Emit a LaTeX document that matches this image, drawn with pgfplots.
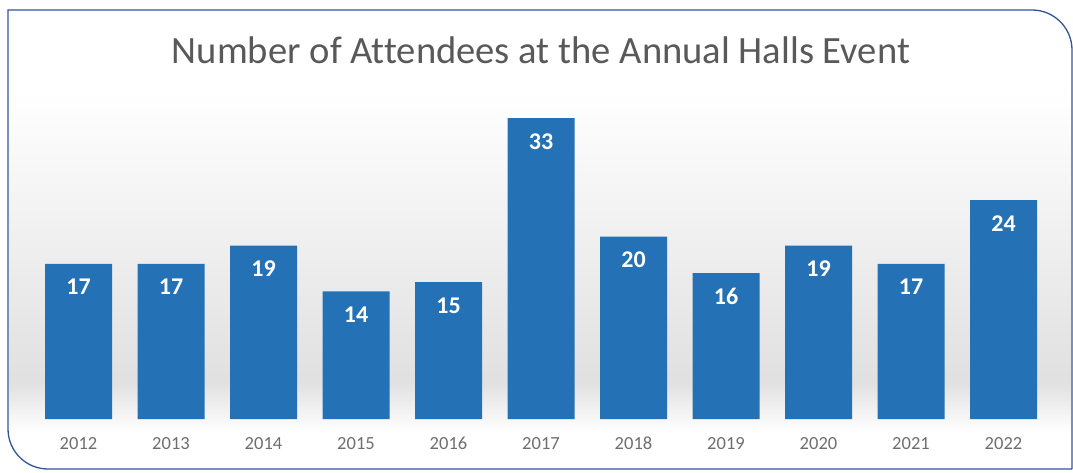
\documentclass[border=0pt]{standalone}
\usepackage{pgfplots}
\pgfplotsset{compat=1.18}
\usepackage{fontspec}
\setmainfont{Carlito}[Ligatures=NoCommon]
\definecolor{barblue}{RGB}{36,113,181}
\definecolor{bordblue}{RGB}{47,85,151}
\definecolor{titlegray}{RGB}{89,89,89}
\definecolor{tickgray}{RGB}{110,110,110}
\begin{document}
\begin{tikzpicture}
\useasboundingbox (0pt,0pt) rectangle (1073pt,472pt);
% background shading
\shade[top color=white, bottom color=black!12] (9pt,90pt) rectangle (1071pt,380pt);
\shade[top color=black!12, bottom color=white] (9pt,40pt) rectangle (1071pt,90pt);
\begin{axis}[
  at={(32.25pt,53pt)}, anchor=south west,
  scale only axis,
  width=1017.5pt, height=328.3pt,
  xmin=-0.5, xmax=10.5, ymin=0, ymax=36,
  axis line style={draw=none},
  hide y axis,
  xtick=data,
  xticklabels={2012,2013,2014,2015,2016,2017,2018,2019,2020,2021,2022},
  major tick length=0pt,
  xticklabel style={anchor=base, yshift=-30pt, font=\fontsize{18.5}{22}\selectfont, text=tickgray},
  ybar, bar width=67pt,
  nodes near coords,
  nodes near coords style={anchor=base, yshift=-31pt, text=white, font=\bfseries\fontsize{24}{28}\selectfont},
  /pgf/number format/assume math mode=true,
]
\addplot[fill=barblue, draw=none] coordinates {
(0,17) (1,17) (2,19) (3,14) (4,15) (5,33) (6,20) (7,16) (8,19) (9,17) (10,24)};
\end{axis}
\node[text=titlegray, font=\fontsize{38.6}{42}\selectfont] at (541pt,422pt) {Number of Attendees at the Annual Halls Event};
\draw[bordblue, line width=1.3pt] (1072pt,3pt) -- (48pt,3pt) arc(270:180:40pt) -- (8pt,462pt) -- (1032pt,462pt) arc(90:0:40pt) -- (1072pt,3pt);
\end{tikzpicture}
\end{document}
